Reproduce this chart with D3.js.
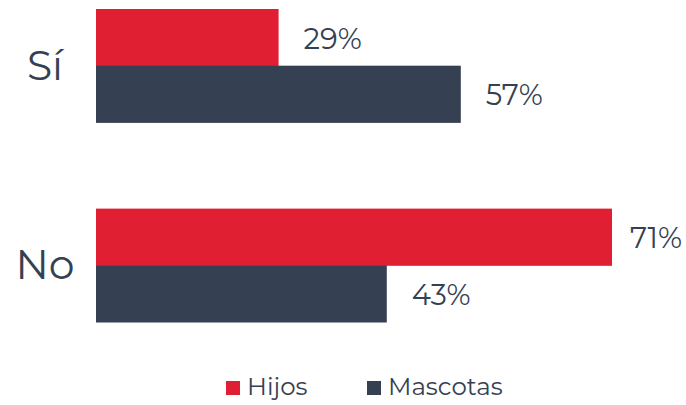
<!DOCTYPE html>
<html>
<head>
<meta charset="utf-8">
<script src="https://cdn.jsdelivr.net/npm/d3@7"></script>
<style>
  html, body { margin: 0; padding: 0; background: #fff; }
  svg { display: block; font-family: "Montserrat", "Inter", "Noto Sans", sans-serif; }
</style>
</head>
<body>
<svg id="chart" width="686" height="405"></svg>
<script>
// ---- data ----
const categories = ["Sí", "No"];
const seriesNames = ["Hijos", "Mascotas"];
const hijos = [29, 71];
const mascotas = [57, 43];
// The reference draws each series on its own length scale (bar lengths are
// not proportional across series); these domains are read off the bar ends.
const hijosDomain = [6, 71];
const mascotasDomain = [-12, 85.6];

const colors = { Hijos: "#e01f33", Mascotas: "#354152" };
const textColor = "#354152";

const W = 686, H = 405;
const svg = d3.select("#chart");

const x0 = 96, x1 = 612;
const xScales = {
  Hijos: d3.scaleLinear().domain(hijosDomain).range([x0, x1]),
  Mascotas: d3.scaleLinear().domain(mascotasDomain).range([x0, x1])
};
const values = { Hijos: hijos, Mascotas: mascotas };

const y = d3.scaleBand().domain(categories).range([9, 322]).paddingInner(0.432).paddingOuter(0);
const ySub = d3.scaleBand().domain(seriesNames).range([0, y.bandwidth()]).padding(0);

const rows = [];
categories.forEach((c, i) => {
  seriesNames.forEach(s => rows.push({ cat: c, series: s, value: values[s][i] }));
});

const g = svg.append("g");

g.selectAll("rect.bar").data(rows).join("rect")
  .attr("class", "bar")
  .attr("x", x0)
  .attr("y", d => y(d.cat) + ySub(d.series))
  .attr("width", d => xScales[d.series](d.value) - x0)
  .attr("height", ySub.bandwidth() + 0.5)
  .attr("fill", d => colors[d.series]);

const valSize = 29;
g.selectAll("text.val").data(rows).join("text")
  .attr("class", "val")
  .attr("y", d => y(d.cat) + ySub(d.series) + ySub.bandwidth() / 2 + 1 + valSize * 0.36)
  .attr("font-size", valSize)
  .attr("fill", textColor)
  .text(d => d.value + "%")
  .attr("x", function (d) {
    const w = this.getComputedTextLength();
    return Math.min(xScales[d.series](d.value) + 25, W - w - 4);
  });

// category labels
const catSize = 41;
g.selectAll("text.cat").data(categories).join("text")
  .attr("class", "cat")
  .attr("x", 45)
  .attr("text-anchor", "middle")
  .attr("y", d => y(d) + y.bandwidth() / 2 + catSize * 0.34)
  .attr("font-size", catSize)
  .attr("fill", textColor)
  .text(d => d);

// legend
const legSize = 24.5;
const legend = svg.append("g");
const legendX = [226, 367];
seriesNames.forEach((s, i) => {
  const lg = legend.append("g").attr("transform", `translate(${legendX[i]},381)`);
  lg.append("rect").attr("width", 14).attr("height", 14).attr("fill", colors[s]);
  lg.append("text").attr("x", 21).attr("y", 14).attr("font-size", legSize)
    .attr("fill", textColor).text(s);
});
</script>
</body>
</html>
